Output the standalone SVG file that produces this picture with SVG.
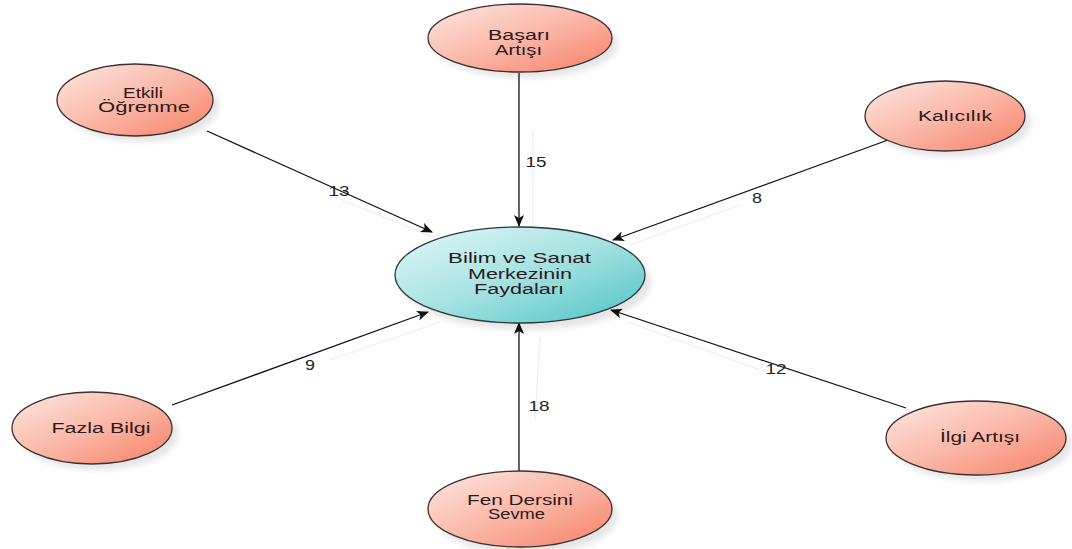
<svg xmlns="http://www.w3.org/2000/svg" width="1072" height="549" viewBox="0 0 1072 549">
<style>
.lbl{font-family:"Liberation Sans",Arial,sans-serif;font-size:14px;fill:#222;text-anchor:middle}
.nt{font-family:"Liberation Sans",Arial,sans-serif;font-size:14px;fill:#2a1a1a;text-anchor:middle}
.pk{fill:url(#pink);stroke:#3a3030;stroke-width:1.3}
.cy{fill:url(#cyan);stroke:#2a3a3a;stroke-width:1.3}
.sh{fill:#000;opacity:0.10;filter:url(#blur)}
.con{stroke:#111;stroke-width:1.3;fill:none;marker-end:url(#arr)}
.ghost{stroke:#eeeeee;stroke-width:1.3;fill:none}
</style>
<defs>
<linearGradient id="pink" x1="0" y1="0" x2="1" y2="1">
<stop offset="0" stop-color="#fde8e2"/>
<stop offset="0.5" stop-color="#fbb8a8"/>
<stop offset="1" stop-color="#f67f66"/>
</linearGradient>
<linearGradient id="cyan" x1="0" y1="0" x2="1" y2="1">
<stop offset="0" stop-color="#e4f8f8"/>
<stop offset="0.5" stop-color="#a6e2e2"/>
<stop offset="1" stop-color="#4cc4c4"/>
</linearGradient>
<filter id="blur" x="-20%" y="-20%" width="140%" height="140%"><feGaussianBlur stdDeviation="3"/></filter>
<marker id="arr" viewBox="0 0 12 10" refX="11" refY="5" markerWidth="12" markerHeight="10" markerUnits="userSpaceOnUse" orient="auto">
<path d="M0,0 L12,5 L0,10 L3,5 Z" fill="#111"/>
</marker>
</defs>
<rect width="1072" height="549" fill="#fff"/>
<g id="connectors">
<line class="ghost" x1="533" y1="130" x2="533" y2="232"/>
<line class="ghost" x1="330" y1="195" x2="440" y2="240"/>
<line class="ghost" x1="740" y1="205" x2="630" y2="245"/>
<line class="ghost" x1="330" y1="360" x2="440" y2="322"/>
<line class="ghost" x1="535" y1="420" x2="540" y2="337"/>
<line class="ghost" x1="760" y1="370" x2="628" y2="322"/>
<line class="con" x1="519" y1="73" x2="519" y2="226"/>
<line class="con" x1="207" y1="131" x2="432" y2="232"/>
<line class="con" x1="888" y1="140" x2="613" y2="240"/>
<line class="con" x1="172" y1="405" x2="428" y2="312"/>
<line class="con" x1="519" y1="471" x2="519" y2="323"/>
<line class="con" x1="906" y1="408" x2="611" y2="310"/>
<text class="lbl" x="536" y="167" textLength="21" lengthAdjust="spacingAndGlyphs">15</text>
<text class="lbl" x="339" y="196" textLength="21" lengthAdjust="spacingAndGlyphs">13</text>
<text class="lbl" x="757" y="203" textLength="10" lengthAdjust="spacingAndGlyphs">8</text>
<text class="lbl" x="310" y="370" textLength="10" lengthAdjust="spacingAndGlyphs">9</text>
<text class="lbl" x="539" y="411" textLength="21" lengthAdjust="spacingAndGlyphs">18</text>
<text class="lbl" x="776" y="374" textLength="21" lengthAdjust="spacingAndGlyphs">12</text>
</g>
<g id="n-center">
<ellipse class="sh" cx="526" cy="282" rx="125" ry="48"/>
<ellipse class="cy" cx="520" cy="275" rx="125" ry="48"/>
<text class="nt" x="519.5" y="263" textLength="143" lengthAdjust="spacingAndGlyphs">Bilim ve Sanat</text>
<text class="nt" x="520" y="279" textLength="104" lengthAdjust="spacingAndGlyphs">Merkezinin</text>
<text class="nt" x="519" y="294" textLength="90" lengthAdjust="spacingAndGlyphs">Faydaları</text>
</g>
<g id="n-basari">
<ellipse class="sh" cx="526" cy="44" rx="92" ry="34"/>
<ellipse class="pk" cx="520" cy="38" rx="92" ry="34"/>
<text class="nt" x="519" y="40" textLength="62" lengthAdjust="spacingAndGlyphs">Başarı</text>
<text class="nt" x="518.5" y="55" textLength="47" lengthAdjust="spacingAndGlyphs">Artışı</text>
</g>
<g id="n-etkili">
<ellipse class="sh" cx="141" cy="106" rx="78" ry="36"/>
<ellipse class="pk" cx="135" cy="100" rx="78" ry="36"/>
<text class="nt" x="143" y="98" textLength="40" lengthAdjust="spacingAndGlyphs">Etkili</text>
<text class="nt" x="144" y="112" textLength="92" lengthAdjust="spacingAndGlyphs">Öğrenme</text>
</g>
<g id="n-kalicilik">
<ellipse class="sh" cx="951" cy="122" rx="80" ry="35"/>
<ellipse class="pk" cx="945" cy="116" rx="80" ry="35"/>
<text class="nt" x="955" y="121" textLength="74" lengthAdjust="spacingAndGlyphs">Kalıcılık</text>
</g>
<g id="n-fazla">
<ellipse class="sh" cx="98" cy="434" rx="80" ry="36"/>
<ellipse class="pk" cx="92" cy="428" rx="80" ry="36"/>
<text class="nt" x="101" y="433" textLength="99" lengthAdjust="spacingAndGlyphs">Fazla Bilgi</text>
</g>
<g id="n-ilgi">
<ellipse class="sh" cx="982" cy="444" rx="90" ry="37"/>
<ellipse class="pk" cx="976" cy="438" rx="90" ry="37"/>
<text class="nt" x="980" y="442" textLength="80" lengthAdjust="spacingAndGlyphs">İlgi Artışı</text>
</g>
<g id="n-fen">
<ellipse class="sh" cx="526" cy="516" rx="92" ry="38"/>
<ellipse class="pk" cx="520" cy="509" rx="92" ry="38"/>
<text class="nt" x="520" y="505" textLength="106" lengthAdjust="spacingAndGlyphs">Fen Dersini</text>
<text class="nt" x="516.5" y="519" textLength="57" lengthAdjust="spacingAndGlyphs">Sevme</text>
</g>
</svg>
